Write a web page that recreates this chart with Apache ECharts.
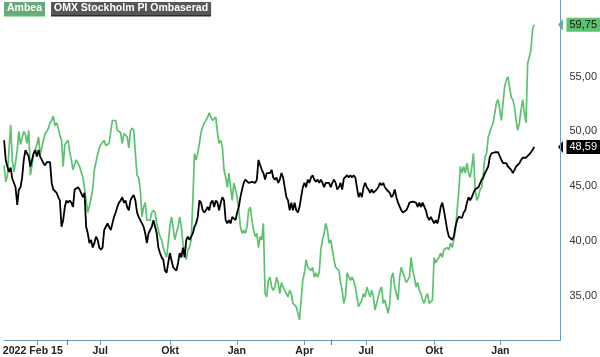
<!DOCTYPE html>
<html>
<head>
<meta charset="utf-8">
<script src="https://cdn.jsdelivr.net/npm/echarts@6/dist/echarts.min.js"></script>
<style>html,body{margin:0;padding:0;background:#fff}#c{width:600px;height:357px}</style>
</head>
<body>
<div id="c"></div>
<script>
// Samples along the trading-day axis (one sample ~ 1.56 trading days), 2022-02-15 .. 2024-02-15
const ambea = [
46.9,45.4,45.9,48.3,50.6,47.4,46.3,47.2,48.3,50.0,
48.8,49.4,50.0,49.7,48.9,50.1,46.0,46.9,48.0,48.3,
48.8,49.5,47.9,48.5,49.2,49.8,50.0,50.3,50.8,51.0,
51.4,50.5,50.8,50.3,49.6,49.2,46.8,48.8,49.0,49.2,
48.1,47.4,46.5,47.0,47.4,47.1,46.8,46.3,45.8,44.8,
43.7,42.6,43.2,43.9,44.7,46.5,47.2,47.9,48.5,48.8,
48.9,49.2,48.7,48.7,48.9,50.0,51.0,51.1,51.0,50.1,
50.0,49.9,48.9,49.8,49.7,49.5,48.5,50.0,50.3,50.1,
50.0,46.0,45.8,44.7,42.2,43.1,43.5,41.9,41.9,41.9,
42.6,42.8,42.6,41.6,41.0,40.4,40.1,39.4,38.9,38.5,
39.8,41.3,42.2,41.3,40.1,40.7,41.3,42.2,41.3,39.8,
38.9,38.3,39.2,39.4,40.1,43.7,48.0,47.4,48.0,48.9,
49.9,50.4,50.8,51.0,51.3,51.7,51.3,51.0,51.0,51.3,
49.9,48.9,49.2,48.6,46.5,45.8,44.9,46.2,44.9,43.7,
45.3,44.7,44.0,42.8,41.3,40.7,41.0,40.7,41.3,42.8,
43.1,41.9,41.0,40.4,40.7,39.4,40.4,40.1,41.6,35.2,
34.9,36.4,36.7,35.8,35.5,35.8,36.7,36.2,35.2,36.2,
35.8,35.5,35.2,34.9,35.5,35.2,34.3,34.3,34.0,33.4,
32.8,34.6,36.4,37.1,38.3,37.6,37.6,37.3,37.6,36.7,
37.1,36.7,37.1,39.2,40.1,40.7,41.6,41.0,39.8,40.1,
39.2,38.3,37.6,37.6,37.3,36.2,35.5,34.3,34.9,37.1,
37.1,36.4,36.7,36.4,35.8,34.9,34.0,34.3,34.6,35.2,
34.9,35.8,35.8,34.9,35.5,34.9,33.7,34.3,34.9,35.5,
35.8,34.3,34.6,34.0,33.4,34.3,36.7,37.1,35.8,35.2,
34.6,36.7,37.6,37.1,36.7,36.2,36.2,36.7,38.5,37.3,
36.7,35.8,36.2,35.5,35.2,34.6,34.3,34.9,35.2,34.3,
34.3,34.6,38.5,38.0,38.3,38.5,38.9,38.5,39.2,39.2,
39.4,39.2,39.8,39.4,40.1,41.0,42.8,44.4,46.8,46.2,
46.8,46.2,47.1,46.2,45.8,46.8,48.0,44.7,43.7,44.0,
44.7,44.9,46.2,47.7,48.0,49.5,49.5,50.4,50.8,51.7,
52.6,52.9,52.0,51.0,52.6,54.1,54.7,55.0,55.0,53.1,
52.9,52.2,51.0,50.1,50.8,52.0,52.9,51.7,50.8,56.2,
56.2,57.4,59.3,59.75];

const omx = [
49.2,47.4,46.8,46.3,46.7,45.7,45.8,44.9,43.3,44.7,
44.9,45.8,47.4,48.3,48.3,47.7,46.8,47.4,48.0,48.3,
47.7,48.3,47.7,47.4,47.1,46.9,47.2,47.2,47.2,45.3,
44.7,44.8,44.4,44.0,43.7,41.3,41.9,43.1,43.7,43.5,
43.7,43.5,43.1,44.7,44.8,44.9,44.7,44.8,44.0,44.4,
41.3,40.7,39.8,40.1,39.4,39.8,40.4,40.1,39.4,39.2,
39.4,41.0,41.3,41.6,41.3,41.0,41.6,42.2,42.6,43.1,
43.5,43.7,44.0,43.5,43.7,43.1,42.8,43.7,44.0,44.2,
43.7,42.6,42.2,41.9,41.6,41.3,40.7,39.8,40.7,41.0,
41.3,41.9,41.3,40.7,39.4,38.9,38.5,38.3,37.3,37.1,
38.0,38.9,38.9,37.6,37.6,37.3,38.0,38.9,38.5,39.4,
38.5,40.1,40.4,40.1,40.4,40.7,41.3,41.6,42.2,43.7,
43.5,42.8,42.6,42.8,43.1,42.8,43.5,43.7,43.1,43.7,
43.5,42.8,43.5,44.0,43.7,41.9,41.6,41.9,41.6,42.2,
42.2,41.9,42.6,43.1,44.0,44.7,45.3,45.6,45.6,45.3,
45.3,45.4,45.3,45.3,45.6,47.4,47.4,46.5,46.2,45.6,
46.2,46.3,46.2,46.5,45.8,45.6,45.8,45.3,45.6,46.2,
45.8,44.9,44.0,43.7,42.8,43.5,42.8,43.5,42.8,42.6,
43.1,44.0,44.9,45.3,44.9,45.6,45.3,45.8,46.0,45.6,
45.4,45.6,45.3,45.6,45.3,44.9,45.3,45.4,45.3,44.9,
45.3,45.6,45.3,44.7,44.9,45.3,44.7,45.7,45.8,46.0,
45.8,46.0,45.8,46.0,45.8,44.9,44.0,44.4,44.0,44.9,
45.3,44.9,44.7,44.4,44.7,44.4,44.4,44.7,44.9,45.3,
45.1,45.3,44.9,44.7,44.7,44.4,44.0,44.2,44.7,44.0,
43.5,43.5,42.8,42.6,42.6,42.8,43.1,43.5,43.5,43.6,
43.7,43.5,43.1,43.5,43.1,43.5,43.5,42.8,42.2,41.9,
42.2,41.9,41.6,41.9,41.6,42.2,43.1,43.5,42.8,41.9,
41.0,40.4,40.4,40.1,40.4,41.3,41.9,42.2,42.2,42.1,
42.6,42.8,43.5,44.0,43.7,44.0,44.4,44.7,44.7,44.9,
44.9,45.6,45.8,46.2,46.2,46.8,47.7,48.0,48.0,48.1,
48.0,48.1,48.0,47.4,47.1,47.2,47.1,46.8,46.9,46.5,
46.2,46.5,46.8,46.9,47.1,47.4,47.6,47.7,47.6,47.7,
47.9,48.0,48.3,48.59];

const seriesNames = ['Ambea', 'OMX Stockholm PI Ombaserad'];
const quarterTicks = [20.4, 58.6, 101.2, 141.8, 183, 220.6, 262, 302.4];
const labelPositions = [17.5, 58.6, 101.2, 141.8, 183, 220.6, 262, 302.4];
const tickLabels = ['2022 Feb 15', 'Jul', 'Okt', 'Jan', 'Apr', 'Jul', 'Okt', 'Jan'];
const dividendTicks = [38.4, 199.2];
const yTickValues = [35, 40, 45, 50, 55];
const axisEnd = 339;
const yMin = 30.96, yMax = 62.0;

const FONT = 'Liberation Sans, Arial, sans-serif';
const GREEN = '#5cc26f';
const AXIS = '#6f9dc2';
const fmt = v => v.toFixed(2).replace('.', ',');

const chart = echarts.init(document.getElementById('c'), null, {renderer: 'canvas'});

function badge(values, bg, fg) {
  return {
    silent: true,
    symbol: ['none', 'path://M0,0L10,0L5,10Z'],
    symbolSize: [12, 5],
    lineStyle: {color: bg, width: 0, type: 'solid'},
    label: {
      show: true, position: 'end', distance: 6,
      formatter: p => fmt(p.value),
      color: fg, backgroundColor: bg, padding: [2, 3, 1, 3],
      fontSize: 11, fontFamily: FONT, lineHeight: 11
    },
    emphasis: {disabled: true},
    data: [{yAxis: values[values.length - 1]}]
  };
}

chart.setOption({
  animation: false,
  backgroundColor: '#fff',
  grid: {left: 0, right: 35, top: 0, bottom: 17, containLabel: false},
  legend: {
    left: -1, top: 2, padding: 0, itemGap: 1, itemWidth: 0, itemHeight: 0,
    selectedMode: false,
    textStyle: {color: '#fff', fontWeight: 'bold', fontSize: 10.5, fontFamily: FONT, padding: [1, 3, 1, 3], lineHeight: 11},
    data: [
      {name: seriesNames[0], icon: 'rect', textStyle: {backgroundColor: '#67ab7a', shadowColor: '#4fc463', shadowOffsetY: 1.5, shadowBlur: 0}},
      {name: seriesNames[1], icon: 'rect', textStyle: {backgroundColor: '#575757', shadowColor: '#2a2a2a', shadowOffsetY: 1.5, shadowBlur: 0}}
    ]
  },
  xAxis: [{
    type: 'value', min: 0, max: axisEnd,
    axisLine: {show: true, onZero: false, lineStyle: {color: AXIS, width: 1}},
    axisTick: {show: true, customValues: quarterTicks, length: 5, lineStyle: {color: AXIS}},
    axisLabel: {
      customValues: labelPositions,
      formatter: v => { const i = labelPositions.findIndex(p => Math.abs(p - v) < 0.01); return i >= 0 ? tickLabels[i] : ''; },
      color: '#222', fontWeight: 'bold', fontSize: 10.6, fontFamily: FONT, margin: 6
    },
    splitLine: {show: false}
  }, {
    type: 'value', min: 0, max: axisEnd, position: 'bottom',
    axisLine: {show: false, onZero: false},
    axisTick: {show: true, customValues: dividendTicks, length: 5, lineStyle: {color: '#e8434b'}},
    axisLabel: {show: false},
    splitLine: {show: false}
  }],
  yAxis: {
    type: 'value', position: 'right', min: yMin, max: yMax,
    axisLine: {show: true, onZero: false, lineStyle: {color: AXIS, width: 1}},
    axisTick: {show: false},
    splitLine: {show: false},
    axisLabel: {customValues: yTickValues, formatter: v => fmt(v), color: '#333', fontSize: 11, fontFamily: FONT, margin: 9}
  },
  series: [{
    name: seriesNames[0], type: 'line', xAxisIndex: 0,
    data: ambea.map((v, i) => [i, v]),
    symbol: 'none', showSymbol: false,
    lineStyle: {color: GREEN, width: 1.7},
    itemStyle: {color: GREEN},
    z: 2,
    markLine: badge(ambea, GREEN, '#111')
  }, {
    name: seriesNames[1], type: 'line', xAxisIndex: 0,
    data: omx.map((v, i) => [i, v]),
    symbol: 'none', showSymbol: false,
    lineStyle: {color: '#000', width: 1.8},
    itemStyle: {color: '#000'},
    z: 3,
    markLine: badge(omx, '#000', '#fff')
  }, {
    // right frame edge of the plot
    name: 'frame', type: 'line', xAxisIndex: 0, data: [],
    markLine: {
      silent: true, symbol: 'none', label: {show: false},
      lineStyle: {color: AXIS, width: 1, type: 'solid'},
      emphasis: {disabled: true},
      data: [{xAxis: axisEnd}]
    }
  }]
});
</script>
</body>
</html>
